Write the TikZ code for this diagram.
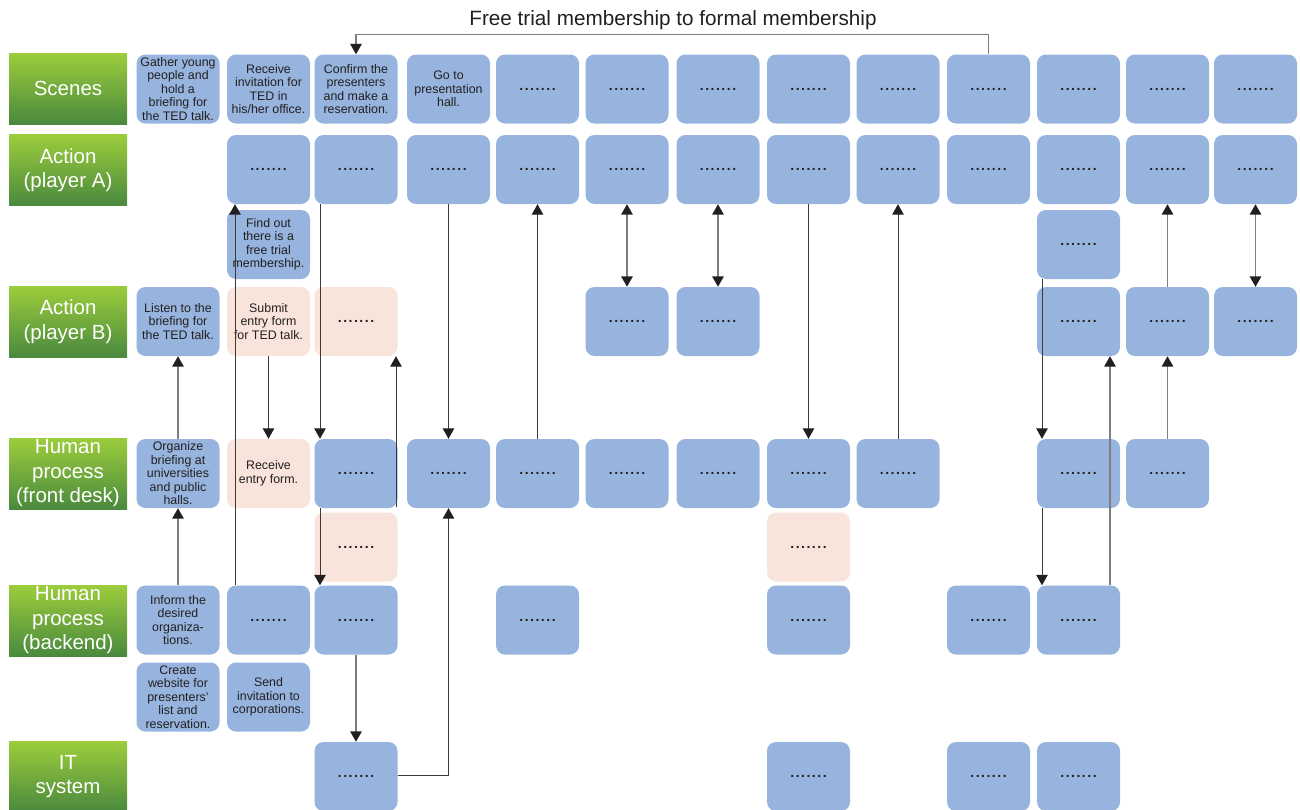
\documentclass[tikz,border=0pt]{standalone}
\usepackage{fontspec}
\setmainfont{Liberation Sans}
\usetikzlibrary{arrows.meta}

\definecolor{boxblue}{HTML}{96B4DE}
\definecolor{boxpink}{HTML}{F9E4DB}
\definecolor{greentop}{HTML}{9CCD3C}
\definecolor{greenbot}{HTML}{4A893E}
\definecolor{txtdark}{HTML}{231F20}
\definecolor{linegray}{HTML}{7E7E7E}
\definecolor{linedark}{HTML}{3A3A3A}

% seven spaced dots used as placeholder text
\newcommand{\placedots}{{\fontsize{14}{14}\bfseries\foreach \k in {1,...,7}{\makebox[5.4pt]{.}}}}

\tikzset{
  lane/.style={rectangle, minimum width=118pt, minimum height=71pt,
    top color=greentop, bottom color=greenbot, text=white, align=center,
    font=\fontsize{20.5}{24.5}\selectfont, inner sep=0pt},
  cell/.style={rectangle, rounded corners=9pt, minimum width=83pt,
    minimum height=69pt, align=center, inner sep=0pt,
    text=txtdark, font=\fontsize{12.4}{13.5}\selectfont},
  bluecell/.style={cell, fill=boxblue},
  pinkcell/.style={cell, fill=boxpink},
  headtip/.tip={Triangle[width=11.5pt,length=10.5pt,color=txtdark]},
  darkline/.style={draw=linedark, line width=1pt},
  grayline/.style={draw=linegray, line width=1.5pt},
}

\begin{document}
\begin{tikzpicture}[x=1pt,y=-1pt]
\useasboundingbox (0,0) rectangle (1300,809);

% lane headings
\node[lane] (lscenes) at (68,88.5) {Scenes};
\node[lane] (lacta) at (68,170) {Action\\(player A)};
\node[lane] (lactb) at (68,321.5) {Action\\(player B)};
\node[lane] (lfront) at (68,473.5) {Human\\process\\(front desk)};
\node[lane] (lback) at (68,620.5) {Human\\process\\(backend)};
\node[lane] (lit) at (68,776.5) {IT\\system};

% title above the flow
\node[font=\fontsize{20.7}{24}\selectfont, text=txtdark] (title) at (673,20)
  {Free trial membership to formal membership};

% column centres
\def\ca{178}\def\cb{268.5}\def\cc{356}\def\cd{448.5}\def\ce{537.5}
\def\cf{627}\def\cg{718}\def\ch{808.5}\def\ci{898}\def\cj{988.5}
\def\ck{1078.5}\def\cl{1167.5}\def\cm{1255.5}
% row centres
\def\ra{89}\def\rb{169.5}\def\rc{244.5}\def\rd{321.5}\def\re{473.5}
\def\rf{547}\def\rg{620}\def\rh{697}\def\ri{776.5}

% Scenes
\node[bluecell] (r1c1) at (\ca,\ra) {Gather young\\people and\\hold a\\briefing for\\the TED talk.};
\node[bluecell] (r1c2) at (\cb,\ra) {Receive\\invitation for\\TED in\\his/her office.};
\node[bluecell] (r1c3) at (\cc,\ra) {Confirm the\\presenters\\and make a\\reservation.};
\node[bluecell] (r1c4) at (\cd,\ra) {Go to\\presentation\\hall.};
\node[bluecell] (r1c5) at (\ce,\ra) {\placedots};
\node[bluecell] (r1c6) at (\cf,\ra) {\placedots};
\node[bluecell] (r1c7) at (\cg,\ra) {\placedots};
\node[bluecell] (r1c8) at (\ch,\ra) {\placedots};
\node[bluecell] (r1c9) at (\ci,\ra) {\placedots};
\node[bluecell] (r1c10) at (\cj,\ra) {\placedots};
\node[bluecell] (r1c11) at (\ck,\ra) {\placedots};
\node[bluecell] (r1c12) at (\cl,\ra) {\placedots};
\node[bluecell] (r1c13) at (\cm,\ra) {\placedots};

% Action (player A)
\node[bluecell] (r2c2) at (\cb,\rb) {\placedots};
\node[bluecell] (r2c3) at (\cc,\rb) {\placedots};
\node[bluecell] (r2c4) at (\cd,\rb) {\placedots};
\node[bluecell] (r2c5) at (\ce,\rb) {\placedots};
\node[bluecell] (r2c6) at (\cf,\rb) {\placedots};
\node[bluecell] (r2c7) at (\cg,\rb) {\placedots};
\node[bluecell] (r2c8) at (\ch,\rb) {\placedots};
\node[bluecell] (r2c9) at (\ci,\rb) {\placedots};
\node[bluecell] (r2c10) at (\cj,\rb) {\placedots};
\node[bluecell] (r2c11) at (\ck,\rb) {\placedots};
\node[bluecell] (r2c12) at (\cl,\rb) {\placedots};
\node[bluecell] (r2c13) at (\cm,\rb) {\placedots};

% between player A and player B
\node[bluecell] (r3c2) at (\cb,\rc) {Find out\\there is a\\free trial\\membership.};
\node[bluecell] (r3c11) at (\ck,\rc) {\placedots};

% Action (player B)
\node[bluecell] (r4c1) at (\ca,\rd) {Listen to the\\briefing for\\the TED talk.};
\node[pinkcell] (r4c2) at (\cb,\rd) {Submit\\entry form\\for TED talk.};
\node[pinkcell] (r4c3) at (\cc,\rd) {\placedots};
\node[bluecell] (r4c6) at (\cf,\rd) {\placedots};
\node[bluecell] (r4c7) at (\cg,\rd) {\placedots};
\node[bluecell] (r4c11) at (\ck,\rd) {\placedots};
\node[bluecell] (r4c12) at (\cl,\rd) {\placedots};
\node[bluecell] (r4c13) at (\cm,\rd) {\placedots};

% Human process (front desk)
\node[bluecell] (r5c1) at (\ca,\re) {Organize\\briefing at\\universities\\and public\\halls.};
\node[pinkcell] (r5c2) at (\cb,\re) {Receive\\entry form.};
\node[bluecell] (r5c3) at (\cc,\re) {\placedots};
\node[bluecell] (r5c4) at (\cd,\re) {\placedots};
\node[bluecell] (r5c5) at (\ce,\re) {\placedots};
\node[bluecell] (r5c6) at (\cf,\re) {\placedots};
\node[bluecell] (r5c7) at (\cg,\re) {\placedots};
\node[bluecell] (r5c8) at (\ch,\re) {\placedots};
\node[bluecell] (r5c9) at (\ci,\re) {\placedots};
\node[bluecell] (r5c11) at (\ck,\re) {\placedots};
\node[bluecell] (r5c12) at (\cl,\re) {\placedots};

% below the front desk
\node[pinkcell] (r6c3) at (\cc,\rf) {\placedots};
\node[pinkcell] (r6c8) at (\ch,\rf) {\placedots};

% Human process (backend)
\node[bluecell] (r7c1) at (\ca,\rg) {Inform the\\desired\\organiza-\\tions.};
\node[bluecell] (r7c2) at (\cb,\rg) {\placedots};
\node[bluecell] (r7c3) at (\cc,\rg) {\placedots};
\node[bluecell] (r7c5) at (\ce,\rg) {\placedots};
\node[bluecell] (r7c8) at (\ch,\rg) {\placedots};
\node[bluecell] (r7c10) at (\cj,\rg) {\placedots};
\node[bluecell] (r7c11) at (\ck,\rg) {\placedots};

% below the backend
\node[bluecell] (r8c1) at (\ca,\rh) {Create\\website for\\presenters’\\list and\\reservation.};
\node[bluecell] (r8c2) at (\cb,\rh) {Send\\invitation to\\corporations.};

% IT system
\node[bluecell] (r9c3) at (\cc,\ri) {\placedots};
\node[bluecell] (r9c8) at (\ch,\ri) {\placedots};
\node[bluecell] (r9c10) at (\cj,\ri) {\placedots};
\node[bluecell] (r9c11) at (\ck,\ri) {\placedots};

% connectors
\draw[grayline, -headtip] (r1c10.north) -- ++(0,-20) -| (r1c3.north);

\draw[grayline, -headtip] (r5c1.north) -- (r4c1.south);
\draw[grayline, -headtip] (r7c1.north) -- (r5c1.south);

\draw[darkline, -headtip] ([xshift=-33.5pt]r7c2.north) -- ([xshift=-33.5pt]r2c2.south);
\draw[darkline, -headtip] (r4c2.south) -- (r5c2.north);

\draw[darkline, -headtip] ([xshift=-36pt]r2c3.south) -- ([xshift=-36pt]r5c3.north);
\draw[darkline, -headtip] ([xshift=-36pt]r5c3.south) -- ([xshift=-36pt]r7c3.north);
\draw[darkline, -headtip] ([xshift=40pt,yshift=5pt]r6c3.north) -- ([xshift=40pt]r4c3.south);
\draw[grayline, -headtip] (r7c3.south) -- (r9c3.north);
\draw[darkline, -headtip] ([yshift=1.5pt]r9c3.east) -| (r5c4.south);

\draw[darkline, -headtip] (r2c4.south) -- (r5c4.north);
\draw[darkline, -headtip] (r5c5.north) -- (r2c5.south);
\draw[grayline, headtip-headtip] (r2c6.south) -- (r4c6.north);
\draw[grayline, headtip-headtip] (r2c7.south) -- (r4c7.north);
\draw[darkline, -headtip] (r2c8.south) -- (r5c8.north);
\draw[darkline, -headtip] (r5c9.north) -- (r2c9.south);

\draw[darkline, -headtip] ([xshift=-36.5pt]r3c11.south) -- ([xshift=-36.5pt]r5c11.north);
\draw[darkline, -headtip] ([xshift=-36.5pt]r5c11.south) -- ([xshift=-36.5pt]r7c11.north);
\draw[grayline, -headtip] ([xshift=31.5pt]r7c11.north) -- ([xshift=31.5pt]r4c11.south);

\draw[grayline, -headtip] (r5c12.north) -- (r4c12.south);
\draw[grayline, -headtip] (r4c12.north) -- (r2c12.south);
\draw[grayline, headtip-headtip] (r2c13.south) -- (r4c13.north);
\end{tikzpicture}
\end{document}
